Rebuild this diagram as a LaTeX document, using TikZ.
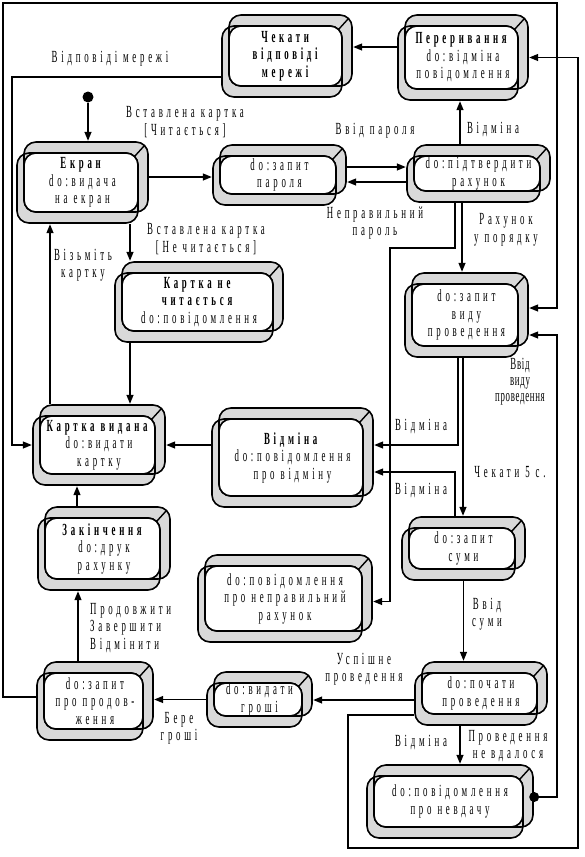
\documentclass[tikz,border=0pt]{standalone}
\usepackage{fontspec}
\setmainfont{Liberation Serif}[FakeStretch=0.52,LetterSpace=22]
\usetikzlibrary{arrows.meta,calc}
\newcommand\bxp[2]{([shift={({(#1)*1pt+1pt},{-(#2)*1pt-1pt})}]path picture bounding box.north west)}
\tikzset{
  arr/.style={line width=1.3pt,-{Triangle[length=9pt,width=7pt]}},
  lbl/.style={font=\fontsize{17}{17.5}\selectfont, align=center, inner sep=0pt},
  st/.style 2 args={rectangle, inner sep=0pt, minimum width=#1pt+2pt, minimum height=#2pt+2pt,
    font=\fontsize{17}{17.5}\selectfont, align=center,
    path picture={
      \fill[gray!30, rounded corners=12pt] \bxp{7}{0} rectangle \bxp{#1}{#2-11} \bxp{0}{11} rectangle \bxp{#1-10}{#2};
      \draw[line width=1.6pt, rounded corners=12pt] \bxp{7}{0} rectangle \bxp{#1}{#2-11};
      \draw[line width=1.6pt, rounded corners=12pt] \bxp{0}{11} rectangle \bxp{#1-10}{#2};
      \draw[line width=1.6pt, rounded corners=12pt, fill=white] \bxp{7}{11} rectangle \bxp{#1-10}{#2-11};
      \draw[line width=1.4pt] \bxp{#1-13.5}{14.5} -- \bxp{#1-3.5}{3.5};
    }},
}
\begin{document}
\begin{tikzpicture}[x=1pt,y=-1pt]
\useasboundingbox (0,0) rectangle (584,857);
% states
\node[st={130}{82}] (wait) at (287,56) {\textbf{Чекати}\\\textbf{відповіді}\\\textbf{мережі}};
\node[st={130}{85}] (intr) at (463,57.5) {\textbf{Переривання}\\do:відміна\\повідомлення};
\node[st={131}{81}] (ekran) at (82.5,182.5) {\textbf{Екран}\\do:видача\\на екран};
\node[st={133}{60}] (parol) at (279.5,175) {do:запит\\пароля};
\node[st={143}{57}] (confirm) at (478.5,173.5) {do:підтвердити\\рахунок};
\node[st={168}{80}] (nechyt) at (199,302) {\textbf{Картка не}\\\textbf{читається}\\do:повідомлення};
\node[st={123}{84}] (vyd) at (466.5,315) {do:запит\\виду\\проведення};
\node[st={132}{80}] (vydana) at (99,445) {\textbf{Картка видана}\\do:видати\\картку};
\node[st={161}{99}] (vidmina) at (292.5,457.5) {\textbf{Відміна}\\do:повідомлення\\про відміну};
\node[st={132}{83}] (zakin) at (104,548.5) {\textbf{Закінчення}\\do:друк\\рахунку};
\node[st={123}{63}] (suma) at (463.5,548.5) {do:запит\\суми};
\node[st={174}{87}] (nepr) at (285,598.5) {do:повідомлення\\про неправильний\\рахунок};
\node[st={116}{78}] (prod) at (95,701) {do:запит\\про продов-\\ження};
\node[st={105}{55}] (groshi) at (259.5,699.5) {do:видати\\гроші};
\node[st={132}{63}] (pochaty) at (481,693.5) {do:почати\\проведення};
\node[st={166}{73}] (nevd) at (450,801.5) {do:повідомлення\\про невдачу};
\node[circle, fill, inner sep=0pt, minimum size=11pt] (init) at (88,97) {};
% labels
\node[lbl] (lvm) at (110,59) {Відповіді мережі};
\node[lbl] (lvk1) at (185,122) {Вставлена картка\\{[}Читається{]}};
\node[lbl] (lvp) at (375,131) {Ввід пароля};
\node[lbl] (lvid1) at (493,130) {Відміна};
\node[lbl] (lnp) at (375,223) {Неправильний\\пароль};
\node[lbl] (lrp) at (506,230) {Рахунок\\у порядку};
\node[lbl] (lvk2) at (206,239) {Вставлена картка\\{[}Не читається{]}};
\node[lbl] (lvk) at (83,265) {Візьміть\\картку};
\node[lbl, font=\fontsize{17}{16}\selectfont\addfontfeature{LetterSpace=4}] (lvvp) at (520,382) {Ввід\\виду\\проведення};
\node[lbl] (lvid2) at (421,427) {Відміна};
\node[lbl] (lch) at (510,472) {Чекати 5 с.};
\node[lbl] (lvid3) at (421,491) {Відміна};
\node[lbl] (lvs) at (487,614) {Ввід\\суми};
\node[lbl] (lup) at (364,669) {Успішне\\проведення};
\node[lbl] (lbg) at (179,728) {Бере\\гроші};
\node[lbl, anchor=west, align=left] (lpzv) at (90,628) {Продовжити\\Завершити\\Відмінити};
\node[lbl] (lvid4) at (421,743) {Відміна};
\node[lbl] (lpnv) at (508,746) {Проведення\\не вдалося};
% connectors
\draw[arr] (init) -- (init |- ekran.north);
\coordinate (b1) at ($(parol.west)+(0,2)$);
\draw[arr] (b1 -| ekran.east) -- (b1);
\coordinate (c1) at ($(parol.east)+(0,-8)$);
\draw[arr] (c1) -- (c1 -| confirm.west);
\coordinate (d1) at ($(confirm.west)+(0,8.5)$);
\draw[arr] (d1) -- (d1 -| parol.east);
\coordinate (e1) at ($(confirm.north)+(-18.5,0)$);
\draw[arr] (e1) -- (e1 |- intr.south);
\coordinate (f1) at ($(intr.west)+(0,-10.5)$);
\draw[arr] (f1) -- (f1 -| wait.east);
\draw[arr] ($(wait.west)+(0,21)$) -| (12,445) -- (vydana.west);
\coordinate (h1) at ($(confirm.south)+(-16.5,0)$);
\draw[arr] (h1) -- (h1 |- vyd.north);
\draw[arr] ($(confirm.south)+(-23.5,0)$) |- (390,248) |- ($(nepr.east)+(0,3)$);
\coordinate (j1) at ($(ekran.south)+(47.5,0)$);
\draw[arr] (j1) -- (j1 |- nechyt.north);
\coordinate (k1) at ($(vydana.north)+(-49,0)$);
\draw[arr] (k1) -- (k1 |- ekran.south);
\coordinate (l1) at ($(nechyt.south)+(-69,0)$);
\draw[arr] (l1) -- (l1 |- vydana.north);
\draw[arr] (vidmina.west |- vydana.east) -- (vydana.east);
\coordinate (n1) at ($(zakin.north)+(-27,0)$);
\draw[arr] (n1) -- (n1 |- vydana.south);
\coordinate (o1) at ($(prod.north)+(-17,0)$);
\draw[arr] (o1) -- (o1 |- zakin.south);
\coordinate (p1) at ($(vyd.south)+(-3.5,0)$);
\draw[arr] (p1) -- (p1 |- suma.north);
\draw[arr] ($(vyd.south)+(-8.5,0)$) |- ($(vidmina.east)+(0,-12.5)$);
\draw[arr] ($(suma.north)+(-8.5,0)$) |- ($(vidmina.east)+(0,14.5)$);
\draw[arr] (suma.south) -- (suma.south |- pochaty.north);
\coordinate (t1) at ($(pochaty.west)+(0,6.5)$);
\draw[arr] (t1) -- (t1 -| groshi.east);
\draw[arr] (groshi.west) -- (groshi.west -| prod.east);
\coordinate (v1) at ($(pochaty.south)+(-21,0)$);
\draw[arr] (v1) -- (v1 |- nevd.north);
\coordinate (w1) at ($(nevd.east)+(0,-4.5)$);
\draw[arr] (w1) -| (557,335) -- ($(vyd.east)+(0,20)$);
\fill (w1) circle (5pt);
\draw[arr] ($(pochaty.west)+(0,21.5)$) -| (348,848) -| (578,57.5) -- (intr.east);
\draw[arr] ($(prod.west)+(0,-4)$) -| (3,3) -| (557,308) -- ($(vyd.east)+(0,-7)$);
\end{tikzpicture}
\end{document}
